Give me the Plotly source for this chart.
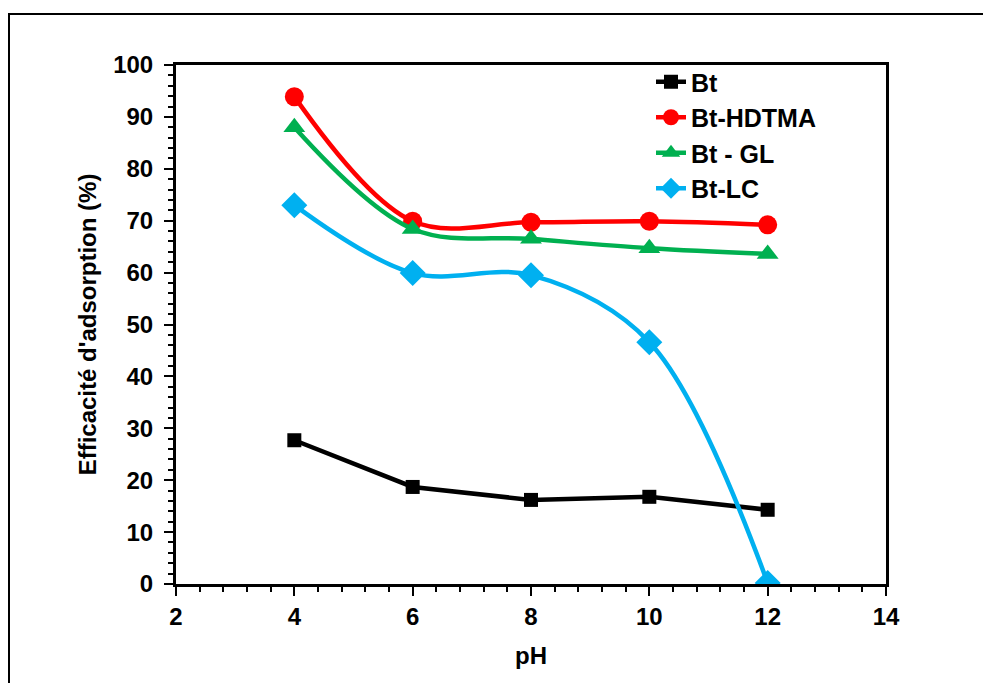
import plotly.graph_objects as go

ph = [4, 6, 8, 10, 12]
bt = [27.7, 18.7, 16.2, 16.8, 14.3]
bt_hdtma = [93.9, 69.9, 69.7, 69.9, 69.2]
bt_gl = [88.0, 68.4, 66.5, 64.7, 63.6]
bt_lc = [73.0, 59.9, 59.5, 46.6, 0.2]

names = ["Bt", "Bt-HDTMA", "Bt - GL", "Bt-LC"]
colors = ["#000000", "#FF0000", "#00B050", "#00B0F0"]
symbols = ["square", "circle", "triangle-up", "diamond"]
sizes = [14, 19, 19, 20]
shapes_line = ["linear", "spline", "spline", "spline"]
series = [bt, bt_hdtma, bt_gl, bt_lc]

fig = go.Figure()
for i, (nm, ys) in enumerate(zip(names, series)):
    fig.add_trace(go.Scatter(
        x=ph, y=ys, name=nm, mode="lines+markers",
        line=dict(color=colors[i], width=4.5, shape=shapes_line[i], smoothing=1.0),
        marker=dict(color=colors[i], symbol=symbols[i], size=sizes[i]),
    ))

FAM = "Liberation Sans, Arial"
OFF = 8  # page body margin
W, H = 991, 683
L, R, T, B = 176 - OFF, 886 - OFF, 65 - OFF, 584 - OFF

def px_x(p):
    return (p - OFF - L) / (R - L)

def px_y(p):
    return (B - (p - OFF)) / (B - T)

tickf = dict(family=FAM, size=24, color="black", weight="bold")
titlef = dict(family=FAM, size=24, color="black", weight="bold")

fig.update_layout(
    width=W, height=H,
    margin=dict(l=L, r=W - R, t=T, b=H - B, pad=0),
    paper_bgcolor="white", plot_bgcolor="white",
    font=dict(family=FAM, size=24, color="black"),
    showlegend=True,
    legend=dict(
        x=px_x(651), y=px_y(59), xanchor="left", yanchor="top",
        font=dict(family=FAM, size=25, color="black", weight="bold"),
        bgcolor="rgba(0,0,0,0)", tracegroupgap=0,
    ),
    xaxis=dict(
        range=[2, 14], dtick=2, tick0=2,
        showgrid=False, zeroline=False,
        showline=True, linecolor="black", linewidth=3, mirror=True,
        ticks="outside", ticklen=9, tickwidth=2, tickcolor="black",
        minor=dict(dtick=0.4, ticks="outside", ticklen=5, tickwidth=2, tickcolor="black"),
        tickfont=tickf, ticklabelstandoff=0,
        title=dict(text="pH", font=titlef, standoff=19),
    ),
    yaxis=dict(
        range=[0, 100], dtick=10, tick0=0,
        showgrid=False, zeroline=False,
        showline=True, linecolor="black", linewidth=3, mirror=True,
        ticks="outside", ticklen=9, tickwidth=2, tickcolor="black",
        minor=dict(dtick=2, ticks="outside", ticklen=5, tickwidth=2, tickcolor="black"),
        tickfont=tickf, ticklabelstandoff=6,
        title=dict(text="Efficacité d'adsorption (%)", font=titlef, standoff=10),
    ),
    shapes=[dict(
        type="rect", xref="paper", yref="paper",
        x0=px_x(9), x1=px_x(985), y0=px_y(720), y1=px_y(14),
        line=dict(color="black", width=2), fillcolor="rgba(0,0,0,0)", layer="below",
    )],
)

fig.write_html("out.html")
